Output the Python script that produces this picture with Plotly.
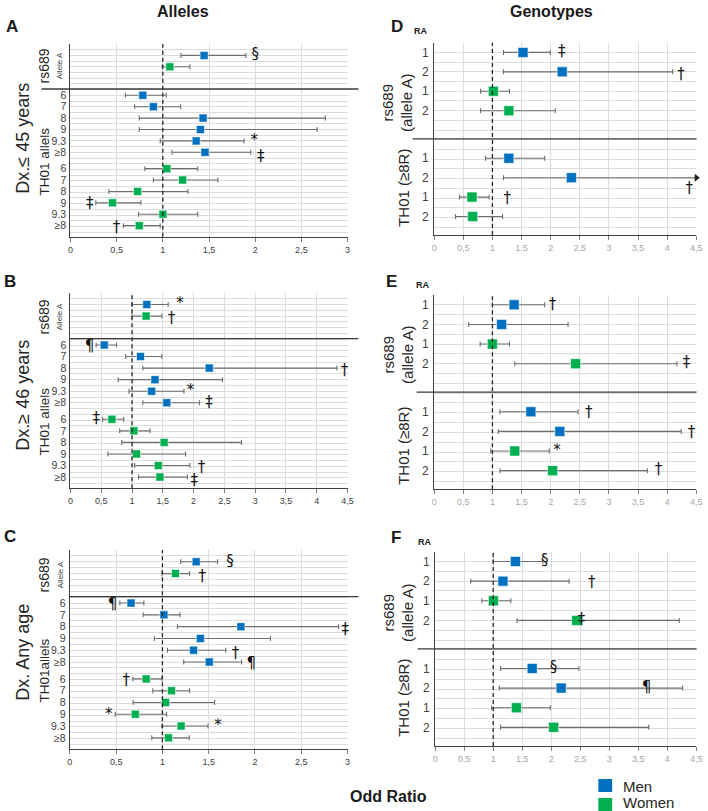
import plotly.graph_objects as go
import numpy as np

W, H = 708, 811

# ---------------- DATA ----------------
allele_cats = ["6", "7", "8", "9", "9.3", "≥8"]
geno_cats = ["1", "2", "1", "2"]
x_ticks_3 = [0, 0.5, 1, 1.5, 2, 2.5, 3]
x_ticks_45 = [0, 0.5, 1, 1.5, 2, 2.5, 3, 3.5, 4, 4.5]
x_ticktext_3 = ["0", "0,5", "1", "1,5", "2", "2,5", "3"]
x_ticktext_45 = ["0", "0,5", "1", "1,5", "2", "2,5", "3", "3,5", "4", "4,5"]

# Panel A  (Dx <= 45 years, alleles)   rs689 [men, women]
A_rs_or = [1.447, 1.076]
A_rs_lo = [1.197, 0.994]
A_rs_hi = [1.899, 1.293]
A_men_or = [0.784, 0.898, 1.436, 1.407, 1.361, 1.457]
A_men_lo = [0.595, 0.695, 0.745, 0.745, 0.972, 1.100]
A_men_hi = [1.037, 1.193, 2.760, 2.671, 1.880, 1.952]
A_wom_or = [1.044, 1.215, 0.727, 0.456, 1.001, 0.745]
A_wom_lo = [0.805, 0.898, 0.417, 0.275, 0.737, 0.574]
A_wom_hi = [1.378, 1.596, 1.271, 0.763, 1.378, 0.972]
# significance marks: (group, index, symbol, x, y-offset)
A_marks = [("rs", 0, "§", 2.00, 0.0), ("men", 4, "*", 1.99, 0.0),
           ("men", 5, "‡", 2.06, 0.45), ("wom", 3, "‡", 0.21, 0.1),
           ("wom", 5, "†", 0.50, 0.2)]

# Panel B  (Dx >= 46 years, alleles)
B_rs_or = [1.240, 1.229]
B_rs_lo = [1.000, 1.000]
B_rs_hi = [1.587, 1.486]
B_men_or = [0.550, 1.138, 2.254, 1.373, 1.319, 1.565]
B_men_lo = [0.417, 0.897, 1.175, 0.775, 0.951, 1.175]
B_men_hi = [0.748, 1.485, 4.327, 2.468, 1.843, 2.094]
B_wom_or = [0.673, 1.031, 1.522, 1.074, 1.426, 1.453]
B_wom_lo = [0.523, 0.800, 0.833, 0.609, 1.042, 1.106]
B_wom_hi = [0.865, 1.293, 2.778, 1.870, 1.940, 1.900]
B_marks = [("rs", 0, "*", 1.78, 0.0), ("rs", 1, "†", 1.64, 0.3),
           ("men", 0, "¶", 0.31, 0.2), ("men", 2, "†", 4.45, 0.3),
           ("men", 4, "*", 1.95, 0.0), ("men", 5, "‡", 2.25, 0.0),
           ("wom", 0, "‡", 0.42, 0.0), ("wom", 4, "†", 2.13, 0.2),
           ("wom", 5, "‡", 2.01, 0.4)]

# Panel C  (Dx any age, alleles)
C_rs_or = [1.365, 1.141]
C_rs_lo = [1.198, 0.995]
C_rs_hi = [1.596, 1.294]
C_men_or = [0.661, 1.016, 1.848, 1.410, 1.336, 1.506]
C_men_lo = [0.540, 0.792, 1.162, 0.913, 1.055, 1.230]
C_men_hi = [0.800, 1.190, 2.903, 2.167, 1.684, 1.855]
C_wom_or = [0.825, 1.098, 1.034, 0.707, 1.202, 1.066]
C_wom_lo = [0.680, 0.896, 0.683, 0.490, 0.995, 0.885]
C_wom_hi = [0.995, 1.294, 1.564, 1.045, 1.493, 1.290]
C_marks = [("rs", 0, "§", 1.73, 0.0), ("rs", 1, "†", 1.43, 0.3),
           ("men", 0, "¶", 0.46, 0.2), ("men", 2, "‡", 2.975, 0.3),
           ("men", 4, "†", 1.79, 0.3), ("men", 5, "¶", 1.96, 0.2),
           ("wom", 0, "†", 0.61, 0.2), ("wom", 3, "*", 0.42, 0.1),
           ("wom", 4, "*", 1.60, 0.0)]

# Panels D/E/F (genotypes): rows [men RA1, men RA2, women RA1, women RA2]
D_rs_or = [1.525, 2.197, 1.016, 1.282]
D_rs_lo = [1.190, 1.190, 0.796, 0.796]
D_rs_hi = [1.993, 4.094, 1.293, 2.078]
D_th_or = [1.282, 2.355, 0.649, 0.661]
D_th_lo = [0.881, 1.190, 0.435, 0.367]
D_th_hi = [1.897, 4.500, 0.943, 1.174]   # men RA2 upper limit off-scale (arrow)
D_arrow = [("th", 1)]
D_marks = [("rs", 0, "‡", 2.19, 0.0), ("rs", 1, "†", 4.235, 0.2),
           ("th", 1, "†", 4.376, 0.6), ("th", 2, "†", 1.253, 0.1)]

E_rs_or = [1.372, 1.158, 0.999, 2.428]
E_rs_lo = [1.000, 0.593, 0.790, 1.383]
E_rs_hi = [1.897, 2.298, 1.293, 4.167]
E_th_or = [1.660, 2.157, 1.383, 2.033]
E_th_lo = [1.129, 1.101, 0.971, 1.129]
E_th_hi = [2.468, 4.240, 1.976, 3.659]
E_arrow = []
E_marks = [("rs", 0, "†", 2.03, 0.0), ("rs", 3, "‡", 4.33, 0.0),
           ("th", 0, "†", 2.654, 0.1), ("th", 1, "†", 4.415, 0.1),
           ("th", 2, "*", 2.11, 0.0), ("th", 3, "†", 3.85, 0.0)]

F_rs_or = [1.383, 1.168, 1.003, 2.438]
F_rs_lo = [1.003, 0.612, 0.805, 1.411]
F_rs_hi = [1.854, 2.307, 1.304, 4.206]
F_th_or = [1.672, 2.171, 1.400, 2.041]
F_th_lo = [1.128, 1.105, 0.975, 1.128]
F_th_hi = [2.477, 4.263, 1.984, 3.679]
F_arrow = []
F_marks = [("rs", 0, "§", 1.89, 0.0), ("rs", 1, "†", 2.70, 0.1),
           ("rs", 3, "‡", 2.52, 0.0), ("th", 0, "§", 2.04, 0.0),
           ("th", 1, "¶", 3.64, 0.0)]

# ---------------- STYLE ----------------
BLUE = "#0070C0"
GREEN = "#00B050"
CI_COL = "#6e6e6e"
GRID = "#dcdcdc"
FONT = "Liberation Sans, Arial, sans-serif"


def px(x):
    return x / W


def py(y):
    return 1 - y / H


def sx(i):
    return "" if i == 1 else str(i)


fig = go.Figure()

# row layouts
L_rs_rows = [1.0, 2.0]
L_men_rows = [4.5 + i for i in range(6)]
L_wom_rows = [10.93 + i for i in range(6)]
L_sep = 3.95
L_range = [16.9, 0]
R_rs_rows = [0.5, 1.5, 2.5, 3.5]
R_th_rows = [5.95, 6.95, 7.95, 8.95]
R_sep = 4.95
R_range = [9.9, 0]

# panel geometry in pixels: (left, right, top, bottom)
panels = {
    "A": (68.3, 349.0, 44.0, 236.7),
    "B": (68.3, 349.0, 293.0, 488.3),
    "C": (67.7, 349.0, 550.0, 749.3),
    "D": (436.7, 702.3, 42.7, 235.0),
    "E": (436.7, 702.3, 295.0, 489.3),
    "F": (437.7, 702.3, 551.7, 746.0),
}

layout_axes = {}
shapes = []
annotations = []


def add_ci_trace(ai, xs, lo, hi, ys, color, msize):
    xs = np.array(xs, float)
    lo = np.array(lo, float)
    hi = np.array(hi, float)
    fig.add_trace(go.Scatter(
        x=xs, y=ys, mode="markers",
        marker=dict(symbol="square", size=msize, color=color,
                    line=dict(width=1, color="rgba(255,255,255,0.55)")),
        error_x=dict(type="data", symmetric=False, array=hi - xs,
                     arrayminus=xs - lo, color=CI_COL, thickness=1.1, width=2.5),
        xaxis="x" + sx(ai), yaxis="y" + sx(ai), showlegend=False, hoverinfo="x+y"))


def add_marks(ai, marks, rowmap):
    xs, ys, ts = [], [], []
    for grp, idx, sym, xv, dy in marks:
        xs.append(xv)
        ys.append(rowmap[grp][idx] + dy)
        ts.append(sym)
    fig.add_trace(go.Scatter(
        x=xs, y=ys, mode="text", text=ts, cliponaxis=False,
        textfont=dict(size=15, color="#111111", family="DejaVu Sans, " + FONT),
        xaxis="x" + sx(ai), yaxis="y" + sx(ai), showlegend=False, hoverinfo="skip"))


def setup_axes(ai, key, xmax, tickvals, ticktext, yvals, ytext, yrange, ytickfont,
               tickcol, ystandoff):
    l, r, t, b = panels[key]
    s = sx(ai)
    layout_axes["xaxis" + s] = dict(
        domain=[px(l), px(r)], anchor="y" + s, range=[0, xmax],
        tickmode="array", tickvals=tickvals, ticktext=ticktext,
        showgrid=True, gridcolor=GRID, gridwidth=1, zeroline=False,
        showline=True, linecolor="#404040", linewidth=1,
        ticks="outside", ticklen=4, tickcolor="#7f7f7f",
        tickfont=dict(size=9, color=tickcol, family=FONT), fixedrange=True)
    grid_vals = [float(v) for v in np.arange(0, yrange[0] + 1e-9, 0.5)]
    layout_axes["yaxis" + s] = dict(
        domain=[py(b), py(t)], anchor="x" + s, range=yrange,
        tickmode="array", tickvals=yvals, ticktext=ytext,
        showgrid=False, zeroline=False,
        showline=True, linecolor="#404040", linewidth=1.2,
        ticks="", tickfont=ytickfont, ticklabelstandoff=ystandoff,
        minor=dict(tickmode="array", tickvals=grid_vals, showgrid=True,
                   gridcolor=GRID, gridwidth=1, ticks=""),
        fixedrange=True)
    # dashed reference line at OR = 1
    shapes.append(dict(type="line", xref="x" + s, yref="y" + s + " domain",
                       x0=1, x1=1, y0=0, y1=1,
                       line=dict(color="#262626", width=1.3, dash="4px,3px")))


# ---------- left (alleles) panels ----------
left_data = [
    (1, "A", A_rs_or, A_rs_lo, A_rs_hi, A_men_or, A_men_lo, A_men_hi,
     A_wom_or, A_wom_lo, A_wom_hi, A_marks, 3.0, 39.0),
    (2, "B", B_rs_or, B_rs_lo, B_rs_hi, B_men_or, B_men_lo, B_men_hi,
     B_wom_or, B_wom_lo, B_wom_hi, B_marks, 4.5, 67.0),
    (3, "C", C_rs_or, C_rs_lo, C_rs_hi, C_men_or, C_men_lo, C_men_hi,
     C_wom_or, C_wom_lo, C_wom_hi, C_marks, 3.0, 67.0),
]
for (ai, key, rs_or, rs_lo, rs_hi, m_or, m_lo, m_hi, w_or, w_lo, w_hi, marks,
     xmax, sep_x0) in left_data:
    if xmax == 3.0:
        tv, tt = x_ticks_3, x_ticktext_3
    else:
        tv, tt = x_ticks_45, x_ticktext_45
    setup_axes(ai, key, xmax, tv, tt, L_men_rows + L_wom_rows,
               allele_cats + allele_cats, L_range,
               dict(size=10.5, color="#404040", family=FONT), "#404040", 1)
    add_ci_trace(ai, [rs_or[0]] + m_or, [rs_lo[0]] + m_lo, [rs_hi[0]] + m_hi,
                 [L_rs_rows[0]] + L_men_rows, BLUE, 8)
    add_ci_trace(ai, [rs_or[1]] + w_or, [rs_lo[1]] + w_lo, [rs_hi[1]] + w_hi,
                 [L_rs_rows[1]] + L_wom_rows, GREEN, 8)
    add_marks(ai, marks, {"rs": L_rs_rows, "men": L_men_rows, "wom": L_wom_rows})
    shapes.append(dict(type="line", xref="paper", yref="y" + sx(ai),
                       x0=px(sep_x0), x1=px(360), y0=L_sep, y1=L_sep,
                       line=dict(color="#3a3a3a", width=1.4)))

# ---------- right (genotypes) panels ----------
right_data = [
    (4, "D", D_rs_or, D_rs_lo, D_rs_hi, D_th_or, D_th_lo, D_th_hi, D_marks, D_arrow, 415.0),
    (5, "E", E_rs_or, E_rs_lo, E_rs_hi, E_th_or, E_th_lo, E_th_hi, E_marks, E_arrow, 419.0),
    (6, "F", F_rs_or, F_rs_lo, F_rs_hi, F_th_or, F_th_lo, F_th_hi, F_marks, F_arrow, 420.0),
]
for (ai, key, rs_or, rs_lo, rs_hi, th_or, th_lo, th_hi, marks, arrows,
     sep_x0) in right_data:
    setup_axes(ai, key, 4.5, x_ticks_45, x_ticktext_45, R_rs_rows + R_th_rows,
               geno_cats + geno_cats, R_range,
               dict(size=12, color="#404040", family=FONT), "#a6a6a6", 2)
    add_ci_trace(ai, rs_or[:2] + th_or[:2], rs_lo[:2] + th_lo[:2], rs_hi[:2] + th_hi[:2],
                 R_rs_rows[:2] + R_th_rows[:2], BLUE, 10)
    add_ci_trace(ai, rs_or[2:] + th_or[2:], rs_lo[2:] + th_lo[2:], rs_hi[2:] + th_hi[2:],
                 R_rs_rows[2:] + R_th_rows[2:], GREEN, 10)
    add_marks(ai, marks, {"rs": R_rs_rows, "th": R_th_rows})
    for grp, idx in arrows:
        hi_arr = th_hi if grp == "th" else rs_hi
        rows = R_th_rows if grp == "th" else R_rs_rows
        fig.add_trace(go.Scatter(
            x=[hi_arr[idx]], y=[rows[idx]], mode="markers",
            marker=dict(symbol="triangle-right", size=7, color="#222222"),
            cliponaxis=False, xaxis="x" + sx(ai), yaxis="y" + sx(ai),
            showlegend=False, hoverinfo="skip"))
    shapes.append(dict(type="line", xref="paper", yref="y" + sx(ai),
                       x0=px(sep_x0), x1=px(702.5), y0=R_sep, y1=R_sep,
                       line=dict(color="#3a3a3a", width=1.4)))


# ---------------- TEXT ----------------
def ann(text, x, y, size, bold=False, angle=0, color="#1a1a1a", xanchor="center",
        align="center"):
    if bold:
        text = f"<b>{text}</b>"
    annotations.append(dict(text=text, x=px(x), y=py(y), xref="paper", yref="paper",
                            showarrow=False, textangle=angle, xanchor=xanchor,
                            yanchor="middle", align=align,
                            font=dict(size=size, color=color, family=FONT)))


ann("Alleles", 182, 11, 16, bold=True)
ann("Genotypes", 556, 11, 16, bold=True)

for letter, (lx, ly) in {"A": (9, 27), "B": (7, 281), "C": (7, 536),
                         "D": (399, 27), "E": (394, 281), "F": (398, 537)}.items():
    ann(letter, lx, ly, 17, bold=True)
for rx, ry in [(423, 31), (425, 285), (427, 542)]:
    ann("RA", rx, ry, 9, bold=True)

# left panels labels
for label, cy, th_label, rs_cy, th_cy in [
        ("Dx.≤ 45 years", 138, "TH01 allels", 66, 161),
        ("Dx.≥ 46 years", 395, "TH01 allels", 317, 421),
        ("Dx. Any age", 652, "TH01allels", 575, 670)]:
    ann(label, 20, cy, 18, angle=-90, color="#262626")
    ann("rs689", 42, rs_cy, 14, angle=-90, color="#262626")
    ann("Allele A", 58, rs_cy, 8, angle=-90, color="#404040")
    ann(th_label, 42, th_cy, 13.5, angle=-90, color="#262626")

# right panels labels
for rs_cy, th_cy in [(103, 188), (355, 446), (613, 698)]:
    ann("rs689<br>(allele A)", 400, rs_cy, 15, angle=-90, color="#262626")
    ann("TH01 (≥8R)", 405, th_cy, 15, angle=-90, color="#262626")

ann("Odd Ratio", 390, 796, 16, bold=True)

# legend (manual)
shapes.append(dict(type="rect", xref="paper", yref="paper", x0=px(603), x1=px(617),
                   y0=py(792), y1=py(779), fillcolor=BLUE, line=dict(width=0)))
shapes.append(dict(type="rect", xref="paper", yref="paper", x0=px(603), x1=px(617),
                   y0=py(811), y1=py(798), fillcolor=GREEN, line=dict(width=0)))
ann("Men", 626, 786, 15, xanchor="left", color="#262626")
ann("Women", 626, 802, 15, xanchor="left", color="#262626")

fig.update_layout(
    width=W, height=H, margin=dict(l=0, r=0, t=0, b=0),
    paper_bgcolor="white", plot_bgcolor="white",
    font=dict(family=FONT), showlegend=False,
    shapes=shapes, annotations=annotations, **layout_axes)

fig.write_html("out.html", config={"displayModeBar": False},
               post_script="document.body.style.margin='0';document.body.style.overflow='hidden';")
